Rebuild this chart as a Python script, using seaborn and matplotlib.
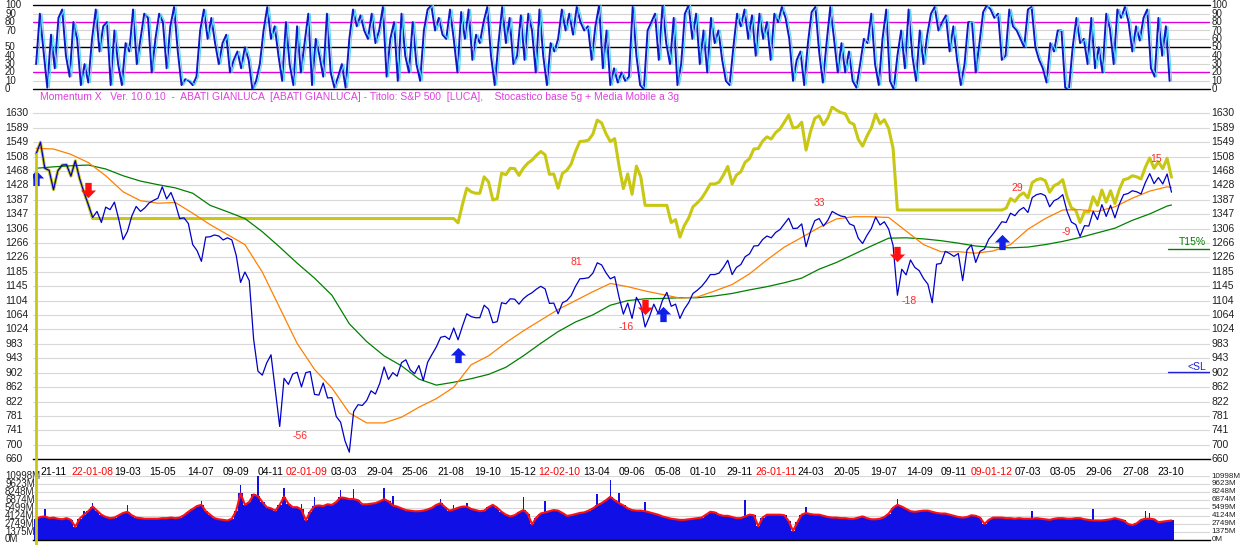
import numpy as np
import pandas as pd
import matplotlib
matplotlib.use("Agg")
import matplotlib.pyplot as plt
import matplotlib.dates as mdates
import matplotlib.transforms as mtransforms
from matplotlib.lines import Line2D
import seaborn as sns

# S&P 500 weekly (wednesday) levels
price_2007 = [1516, 1549, 1476, 1470, 1416, 1469, 1485, 1486, 1454, 1497]
price_2008 = [1447, 1409, 1374, 1338, 1355, 1324, 1367, 1360, 1381, 1333, 1276, 1299, 1342,
              1369, 1355, 1365, 1379, 1386, 1392, 1424, 1390, 1408, 1377, 1335, 1337, 1321,
              1262, 1245, 1215, 1283, 1284, 1289, 1286, 1275, 1281, 1275, 1232, 1156, 1185,
              1161, 997, 907, 896, 930, 953, 852, 752, 887, 870, 899, 904, 863, 903]
price_2009 = [906, 842, 840, 874, 832, 833, 780, 764, 712, 680, 794, 813, 811, 825, 852, 843,
              873, 919, 884, 903, 893, 931, 939, 911, 900, 923, 881, 932, 954, 975, 1002, 1005,
              996, 1028, 995, 1033, 1068, 1060, 1057, 1057, 1092, 1081, 1043, 1046, 1099, 1096,
              1110, 1109, 1095, 1110, 1120, 1127]
price_2010 = [1137, 1145, 1138, 1097, 1098, 1068, 1099, 1105, 1119, 1145, 1166, 1167, 1169,
              1182, 1211, 1205, 1183, 1166, 1172, 1115, 1067, 1098, 1055, 1114, 1092, 1031,
              1060, 1095, 1069, 1106, 1128, 1089, 1095, 1055, 1081, 1099, 1125, 1134, 1145,
              1160, 1178, 1178, 1182, 1198, 1218, 1178, 1198, 1206, 1228, 1236, 1258, 1259]
price_2011 = [1276, 1286, 1281, 1296, 1304, 1320, 1336, 1307, 1308, 1320, 1256, 1298, 1329,
              1335, 1314, 1330, 1355, 1348, 1342, 1340, 1320, 1315, 1280, 1265, 1288, 1307,
              1339, 1317, 1326, 1305, 1260, 1120, 1193, 1177, 1219, 1198, 1189, 1167, 1151,
              1099, 1207, 1209, 1243, 1237, 1229, 1237, 1161, 1247, 1261, 1212, 1243, 1250]
price_2012 = [1277, 1292, 1308, 1326, 1324, 1350, 1343, 1358, 1366, 1352, 1394, 1402, 1405,
              1399, 1368, 1385, 1391, 1402, 1355, 1325, 1318, 1285, 1315, 1314, 1355, 1332,
              1374, 1341, 1372, 1337, 1375, 1402, 1405, 1413, 1410, 1404, 1436, 1461, 1433,
              1450, 1432, 1460, 1409]

# equity line (yellow): invested stretches and flat stretches out of the market
equity_a = [1516, 1549, 1476, 1470, 1416, 1469, 1485, 1486, 1454, 1497, 1447, 1409, 1374]
flat_1, flat_1_weeks = 1335, 84
equity_b = [1323, 1374, 1420, 1410, 1406, 1406, 1452, 1438, 1387, 1391, 1462, 1458, 1476,
            1475, 1456, 1476, 1490, 1499, 1512, 1523, 1514, 1459, 1460, 1420, 1462, 1470,
            1488, 1523, 1551, 1552, 1555, 1572, 1611, 1603, 1573, 1551, 1559, 1483, 1419,
            1460, 1403, 1482, 1452]
flat_2, flat_2_weeks = 1372, 6
equity_c = [1324, 1332, 1283, 1315, 1336, 1368, 1379, 1392, 1411, 1432, 1432, 1437, 1457,
            1481, 1432, 1457, 1466, 1493, 1503, 1530, 1531, 1552, 1564, 1558, 1576, 1586,
            1605, 1625, 1589, 1591, 1605, 1527, 1578, 1616, 1623, 1598, 1617, 1648, 1639,
            1632, 1629, 1605, 1599, 1557, 1538, 1566, 1589, 1628, 1601, 1612, 1587, 1532]
flat_3, flat_3_weeks = 1359, 25
equity_d = [1364, 1391, 1383, 1399, 1407, 1393, 1436, 1444, 1447, 1441, 1409, 1427, 1433,
            1444, 1396, 1365, 1358, 1324, 1354, 1353, 1396, 1372, 1415, 1381, 1413, 1377,
            1416, 1444, 1447, 1455, 1452, 1446, 1479, 1505, 1476, 1494, 1475, 1504, 1451]

# moving averages, one reading every 4 weeks
ma_fast = [1532, 1530, 1515, 1492, 1455, 1410, 1385, 1378, 1380, 1350, 1318, 1290, 1262, 1185,
           1085, 985, 912, 860, 790, 762, 762, 778, 806, 830, 862, 925, 950, 987, 1020, 1050,
           1080, 1105, 1130, 1153, 1144, 1132, 1122, 1112, 1115, 1132, 1150, 1180, 1219, 1255,
           1282, 1310, 1334, 1340, 1340, 1338, 1300, 1262, 1242, 1242, 1238, 1244, 1262, 1305,
           1335, 1359, 1360, 1355, 1368, 1392, 1412, 1424, 1422]
ma_slow = [1476, 1480, 1483, 1485, 1474, 1455, 1440, 1430, 1421, 1406, 1372, 1354, 1335, 1298,
           1255, 1210, 1168, 1120, 1040, 990, 950, 922, 885, 868, 876, 886, 898, 918, 950, 985,
           1018, 1045, 1065, 1092, 1105, 1110, 1111, 1113, 1113, 1118, 1125, 1135, 1144, 1155,
           1168, 1193, 1212, 1235, 1258, 1280, 1281, 1278, 1273, 1266, 1258, 1254, 1253, 1255,
           1262, 1271, 1282, 1295, 1308, 1330, 1348, 1370, 1373]

# trade signals (week number, level)
buy_week = [0, 97, 144, 222]
buy_level = [1450, 952, 1066, 1270]
sell_week = [12, 140, 198]
sell_level = [1415, 1088, 1237]
note_week = [60.7, 124.1, 135.6, 180.1, 200.8, 225.6, 236.7, 257.4]
note_level = [724, 1212, 1032, 1378, 1105, 1422, 1298, 1501]
note_text = ["-56", "81", "-16", "33", "-18", "29", "-9", "15"]
target_level = 1250
stop_level = 904

# volume, millions, weekly
vol_2007 = [3600, 3900, 4000, 3700, 3800, 3600, 3500, 3700, 3400, 2200]
vol_2008 = [3600, 4300, 4900, 5700, 5000, 4300, 3900, 3700, 3800, 4200, 4600, 4800, 4200, 3800,
            3700, 3600, 3600, 3600, 3600, 3700, 3700, 3800, 3700, 3800, 4200, 4800, 5300, 5800,
            6000, 4900, 4300, 3700, 3500, 3400, 3300, 3600, 5000, 8000, 6000, 6500, 7800, 7500,
            6500, 5600, 5400, 5000, 6000, 7400, 6200, 5600, 5600, 5200, 3300]
vol_2009 = [4800, 5800, 5900, 5800, 6100, 6000, 6500, 7300, 7200, 7000, 7000, 6800, 6100, 6100,
            6200, 6300, 6600, 7000, 6600, 5900, 5700, 5400, 5100, 5000, 4900, 4900, 5000, 5200,
            5500, 6000, 6300, 5600, 5000, 5200, 5500, 5700, 5700, 5300, 5100, 4900, 5000, 5600,
            6000, 5500, 4800, 4300, 4000, 4200, 4700, 5100, 4500, 2600]
vol_2010 = [3800, 4500, 4700, 4900, 5100, 5000, 4600, 4100, 4200, 4400, 4600, 4700, 5000, 5400,
            5900, 6300, 6800, 7400, 6800, 6300, 5900, 5400, 5100, 5000, 5000, 4900, 4700, 4500,
            4300, 4000, 3800, 3600, 3500, 3400, 3400, 3500, 3600, 3700, 3800, 4300, 4800, 4700,
            4300, 4100, 4100, 3900, 3700, 3700, 4000, 4300, 4200, 2300]
vol_2011 = [3800, 4300, 4300, 4300, 4300, 4200, 3200, 1500, 3000, 4300, 4600, 4400, 4300, 4300,
            4100, 3900, 3800, 3800, 3700, 3700, 3600, 3600, 3800, 4000, 3700, 3500, 3500, 3600,
            3900, 4500, 5500, 6000, 5700, 5300, 4900, 4800, 4900, 5000, 5000, 4800, 4600, 4500,
            4500, 4300, 4100, 3900, 3800, 3900, 4200, 4100, 3800, 2700]
vol_2012 = [3400, 3800, 3800, 3800, 3700, 3700, 3600, 3700, 3600, 3600, 3600, 3700, 3600, 3500,
            3400, 3600, 3700, 3700, 3600, 3600, 3700, 3700, 3500, 3400, 3300, 3300, 3300, 3400,
            3500, 3700, 3500, 3300, 2700, 2500, 2800, 3400, 3600, 3600, 3500, 3000, 3100, 3200,
            3300]
spike_week = [2, 11, 13, 21, 38, 47, 51, 57, 61, 64, 70, 73, 80, 82, 93, 96, 99, 112, 117, 129,
              132, 134, 140, 163, 177, 198, 229, 243, 255, 256]
spike_vol = [5200, 5000, 6300, 6000, 6700, 9500, 11000, 8900, 6100, 7300, 8500, 8700, 8900,
             7500, 7000, 6000, 6300, 7400, 6600, 7900, 10300, 8000, 6500, 6900, 5700, 7000,
             5000, 5200, 4900, 4600]

# stochastic %K, one reading every 6 days
stoch_a = [30, 90, 45, 2, 65, 25, 85, 95, 40, 15, 80, 60, 5, 30, 8, 60, 95, 45, 75, 80,
           5, 70, 30, 5, 55, 45, 95, 30, 60, 90, 85, 20, 60, 90, 80, 25, 75, 98, 45, 5,
           12, 10, 5, 15, 70, 95, 60, 85, 55, 30, 55, 65, 20, 35, 45, 25, 50, 35, 0, 10,
           30, 70, 98, 60, 75, 40, 10, 80, 30, 5, 75, 20, 55, 90, 5, 60, 40, 15, 90, 20,
           2, 15, 30, 2, 60, 95, 75, 88, 70, 60, 90, 55, 70, 98, 15, 60, 80, 10, 90, 40,
           20, 80, 30]
stoch_b = [10, 70, 95, 100, 70, 85, 65, 60, 95, 60, 20, 92, 60, 95, 35, 65, 55, 80, 98, 40,
           5, 55, 98, 55, 85, 30, 40, 88, 35, 90, 70, 20, 95, 40, 5, 55, 45, 60, 95, 70,
           90, 65, 98, 80, 70, 75, 35, 75, 100, 25, 70, 5, 25, 8, 20, 10, 15, 98, 40, 5,
           0, 70, 80, 90, 35, 100, 55, 30, 85, 5, 30, 90, 100, 60, 90, 30, 70, 20, 85, 55,
           70, 35, 10, 5, 50, 90, 75, 95, 60, 88, 40, 90, 60, 80, 35, 90, 80, 98, 85, 60,
           10, 35]
stoch_c = [45, 5, 55, 92, 98, 45, 8, 55, 98, 60, 20, 55, 20, 45, 10, 2, 30, 60, 55, 90,
           30, 5, 60, 95, 10, 0, 40, 70, 25, 95, 40, 10, 70, 30, 65, 90, 98, 70, 80, 88,
           45, 75, 35, 5, 30, 80, 80, 20, 55, 92, 100, 95, 85, 90, 35, 40, 95, 75, 70, 60,
           50, 95, 98, 50, 35, 25, 8, 55, 45, 70, 70, 2, 0, 50, 85, 55, 60, 30, 85, 25,
           50, 20, 90, 72, 30, 95, 85, 98, 80, 45, 75, 58, 85, 95, 25, 15, 85, 40, 75, 10]

tick_dates = ["2007-11-21", "2008-01-22", "2008-03-19", "2008-05-15", "2008-07-14", "2008-09-09",
              "2008-11-04", "2009-01-02", "2009-03-03", "2009-04-29", "2009-06-25", "2009-08-21",
              "2009-10-19", "2009-12-15", "2010-02-12", "2010-04-13", "2010-06-09", "2010-08-05",
              "2010-10-01", "2010-11-29", "2011-01-26", "2011-03-24", "2011-05-20", "2011-07-19",
              "2011-09-14", "2011-11-09", "2012-01-09", "2012-03-07", "2012-05-03", "2012-06-29",
              "2012-08-27", "2012-10-23"]
tick_text = ["21-11", "22-01-08", "19-03", "15-05", "14-07", "09-09", "04-11", "02-01-09",
             "03-03", "29-04", "25-06", "21-08", "19-10", "15-12", "12-02-10", "13-04", "09-06",
             "05-08", "01-10", "29-11", "26-01-11", "24-03", "20-05", "19-07", "14-09", "09-11",
             "09-01-12", "07-03", "03-05", "29-06", "27-08", "23-10"]
price_ticks = [1630, 1589, 1549, 1508, 1468, 1428, 1387, 1347, 1306, 1266, 1226, 1185, 1145,
               1104, 1064, 1024, 983, 943, 902, 862, 822, 781, 741, 700, 660]
vol_ticks = [0, 1375, 2749, 4124, 5499, 6874, 8248, 9623, 10998]
stoch_ticks_left = [100, 90, 80, 70, 50, 40, 30, 20, 10, 0]
stoch_ticks_right = [100, 90, 80, 70, 60, 50, 40, 30, 20, 10, 0]

title = ("Momentum X   Ver. 10.0.10  -  ABATI GIANLUCA  [ABATI GIANLUCA] - Titolo: S&P 500  "
         "[LUCA],    Stocastico base 5g + Media Mobile a 3g")

# ---------------------------------------------------------------
price = np.concatenate([price_2007, price_2008, price_2009, price_2010, price_2011, price_2012])
volume = np.concatenate([vol_2007, vol_2008, vol_2009, vol_2010, vol_2011, vol_2012])
equity = np.concatenate([equity_a, [flat_1] * flat_1_weeks, equity_b, [flat_2] * flat_2_weeks,
                         equity_c, [flat_3] * flat_3_weeks, equity_d])
stoch_k = np.concatenate([stoch_a, stoch_b, stoch_c])

start = pd.Timestamp("2007-10-24")
weeks = pd.date_range(start, periods=len(price), freq="7D")
ma_dates = weeks[list(range(0, len(price) - 1, 4)) + [len(price) - 1]]
stoch_dates = pd.date_range(start, periods=len(stoch_k), freq="6D")
x_lo, x_hi = pd.Timestamp("2007-10-19"), pd.Timestamp("2012-12-25")

sns.set_style("white")
plt.rcParams["font.family"] = ["Liberation Sans", "DejaVu Sans"]

W, H = 1241, 545
fig = plt.figure(figsize=(W / 100, H / 100), dpi=100)


def px_axes(top, bottom, left=33, right=1210):
    return fig.add_axes([left / W, 1 - bottom / H, (right - left) / W, (bottom - top) / H])


def side_labels(ax, values, texts, left=True, right=True, size=7.5, rsize=None, color="#202020"):
    tr = mtransforms.blended_transform_factory(ax.transAxes, ax.transData)
    w = ax.get_position().width * W
    for v, t in zip(values, texts):
        if left:
            ax.text(-28 / w, v, t, transform=tr, ha="left", va="center", fontsize=size,
                    color=color, clip_on=False)
        if right:
            ax.text(1 + 1.5 / w, v, t, transform=tr, ha="left", va="center",
                    fontsize=rsize or size, color=color, clip_on=False)


ax_st = px_axes(5.3, 89.3)
ax_pr = px_axes(106.2, 459.3)
ax_vo = px_axes(476, 539.5)

for ax in (ax_st, ax_pr, ax_vo):
    for s in ax.spines.values():
        s.set_visible(False)

# ---- stochastic panel
ax_st.set_ylim(0, 100)
for v in (10, 30, 40, 60, 70, 90):
    ax_st.axhline(v, color="#d4d4d4", lw=0.8, zorder=0)
for v in (20, 80):
    ax_st.axhline(v, color="#e000e0", lw=1, zorder=1)
for v in (0, 50, 100):
    ax_st.axhline(v, color="black", lw=1, zorder=1, clip_on=False)
sns.lineplot(x=stoch_dates, y=stoch_k, ax=ax_st, color="#1515c8", lw=1.4,
             estimator=None, sort=False)
sns.lineplot(x=stoch_dates, y=stoch_k, ax=ax_st, color="#5ad8f5", lw=0.8,
             estimator=None, sort=False)
ax_st.lines[-1].set_transform(mtransforms.offset_copy(ax_st.transData, fig=fig, x=2, units="dots"))
ax_st.set_xlim(x_lo, x_hi)
ax_st.set_xticks([])
ax_st.set_yticks([])
ax_st.set_xlabel("")
ax_st.set_ylabel("")
side_labels(ax_st, stoch_ticks_left, [str(v) for v in stoch_ticks_left], right=False, size=7)
side_labels(ax_st, stoch_ticks_right, [str(v) for v in stoch_ticks_right], left=False, size=7)

fig.text(40 / W, 1 - 97 / H, title, color="#e040e0", fontsize=7.5, va="center")

# ---- price panel
ax_pr.set_ylim(660, 1650)
for v in price_ticks[:-1]:
    ax_pr.axhline(v, color="#d8d8d8", lw=0.8, zorder=0)
sns.lineplot(x=weeks, y=equity, ax=ax_pr, color="#c8c814", lw=2.2, estimator=None, sort=False)
sns.lineplot(x=ma_dates, y=ma_slow, ax=ax_pr, color="#008000", lw=0.9, estimator=None, sort=False)
sns.lineplot(x=ma_dates, y=ma_fast, ax=ax_pr, color="#ff8000", lw=0.9, estimator=None, sort=False)
sns.lineplot(x=weeks, y=price, ax=ax_pr, color="#0000c8", lw=0.9, estimator=None, sort=False)

up = [(0, 1), (1, 0), (0.42, 0), (0.42, -1), (-0.42, -1), (-0.42, 0), (-1, 0), (0, 1)]
down = [(x, -y) for x, y in up]
ax_pr.scatter(weeks[buy_week], buy_level, marker=up, s=120, color="#1020e8", zorder=5, linewidths=0)
ax_pr.scatter(weeks[sell_week], sell_level, marker=down, s=120, color="#ff1010", zorder=5,
              linewidths=0)
for w, lv, t in zip(note_week, note_level, note_text):
    ax_pr.text(start + pd.Timedelta(days=w * 7), lv, t, color="#ff2a2a", fontsize=7.5,
               ha="center", va="center")

ax_pr.axhline(target_level, xmin=0.964, xmax=1.0, color="#008000", lw=1)
ax_pr.axhline(stop_level, xmin=0.964, xmax=1.0, color="#2020d0", lw=1)
tr = mtransforms.blended_transform_factory(ax_pr.transAxes, ax_pr.transData)
ax_pr.text(0.9965, target_level + 18, "T15%", transform=tr, ha="right", va="center",
           fontsize=7.5, color="#008000")
ax_pr.text(0.9965, stop_level + 16, "<SL", transform=tr, ha="right", va="center",
           fontsize=7.5, color="#2020d0")

ax_pr.set_xlim(x_lo, x_hi)
ax_pr.set_yticks([])
ax_pr.set_xlabel("")
ax_pr.set_ylabel("")
ax_pr.spines["bottom"].set_visible(True)
ax_pr.spines["bottom"].set_color("black")
ax_pr.spines["bottom"].set_linewidth(1)
ax_pr.set_xticks(pd.to_datetime(tick_dates))
ax_pr.set_xticklabels(tick_text, fontsize=7.5)
ax_pr.tick_params(axis="x", direction="out", length=4, width=0.8, color="black", pad=1.5)
for lbl, t in zip(ax_pr.get_xticklabels(), tick_text):
    lbl.set_color("#ff0000" if len(t) > 5 else "black")
side_labels(ax_pr, price_ticks, [str(v) for v in price_ticks])

# ---- volume panel
ax_vo.set_ylim(0, 10998)
for v in vol_ticks[1:]:
    ax_vo.axhline(v, color="#d8d8d8", lw=0.8, zorder=0)
ax_vo.bar(weeks, volume, width=7.2, color="#1010e6", edgecolor="none", zorder=2)
ax_vo.bar(weeks[spike_week], spike_vol, width=2.5, color="#1010e6", edgecolor="none", zorder=2)
sns.lineplot(x=weeks, y=volume, ax=ax_vo, color="#ff1010", lw=1.5, estimator=None, sort=False,
             zorder=3)
ax_vo.set_xlim(x_lo, x_hi)
ax_vo.set_xticks([])
ax_vo.set_yticks([])
ax_vo.set_xlabel("")
ax_vo.set_ylabel("")
ax_vo.spines["bottom"].set_visible(True)
ax_vo.spines["bottom"].set_color("black")
ax_vo.spines["bottom"].set_linewidth(1)
side_labels(ax_vo, vol_ticks, [f"{v}M" for v in vol_ticks], size=7, rsize=5.8)

# yellow start marker running down from the first equity point
x0 = mdates.date2num(weeks[0].to_pydatetime())
top_disp = ax_pr.transData.transform((x0, equity[0]))
top_fig = fig.transFigure.inverted().transform(top_disp)
fig.add_artist(Line2D([top_fig[0], top_fig[0]], [top_fig[1], 0], transform=fig.transFigure,
                      color="#c8c814", lw=2, zorder=1))

fig.savefig("out.png", dpi=100, facecolor="white")
